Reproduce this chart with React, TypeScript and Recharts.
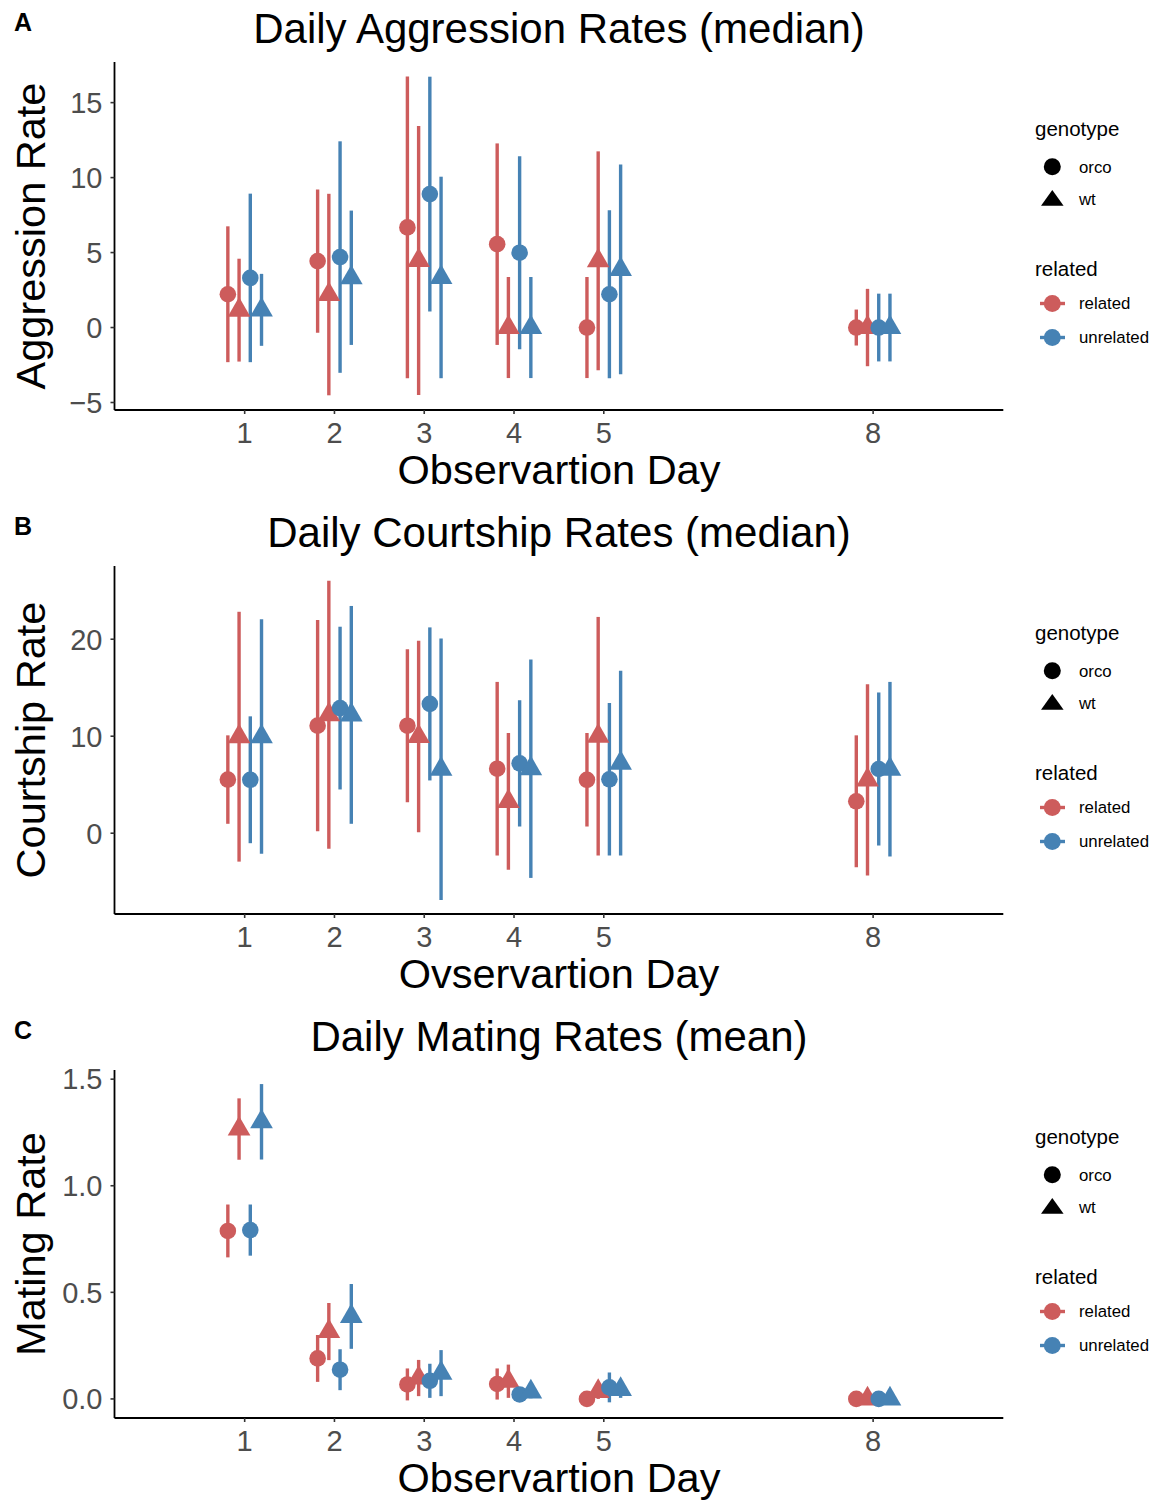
import React from 'react';
import { ScatterChart, Scatter, XAxis, YAxis, ErrorBar } from 'recharts';

// observation days and the dodge offsets for the four genotype x related groups
const days = [1, 2, 3, 4, 5, 8];
const dodge = [-0.1875, -0.0625, 0.0625, 0.1875];
const xTicks = [1, 2, 3, 4, 5, 8];

// aggression (median and half-width of the interval)
const aggRelOrco = [2.22, 4.43, 6.68, 5.56, 0, 0];
const aggRelOrcoErr = [4.53, 4.77, 10.06, 6.72, 3.37, 1.2];
const aggRelWt = [1.16, 2.2, 4.47, 0, 4.45, 0];
const aggRelWtErr = [3.43, 6.72, 8.97, 3.37, 7.3, 2.58];
const aggUnrOrco = [3.31, 4.7, 8.9, 4.99, 2.22, 0];
const aggUnrOrcoErr = [5.62, 7.72, 7.83, 6.44, 5.6, 2.26];
const aggUnrWt = [1.18, 3.32, 3.34, 0, 3.88, 0];
const aggUnrWtErr = [2.4, 4.48, 6.72, 3.37, 6.99, 2.26];

// courtship
const courRelOrco = [5.53, 11.09, 11.08, 6.65, 5.51, 3.29];
const courRelOrcoErr = [4.56, 10.88, 7.88, 8.95, 4.82, 6.8];
const courRelWt = [9.95, 12.21, 9.97, 3.27, 10.0, 5.5];
const courRelWtErr = [12.88, 13.82, 9.87, 7.05, 12.3, 9.87];
const courUnrOrco = [5.51, 12.9, 13.33, 7.2, 5.56, 6.62];
const courUnrOrcoErr = [6.54, 8.39, 7.89, 6.51, 7.87, 7.89];
const courUnrWt = [9.96, 12.2, 6.6, 6.65, 7.22, 6.6];
const courUnrWtErr = [12.09, 11.23, 13.48, 11.26, 9.52, 9.0];

// mating (mean)
const matRelOrco = [0.788, 0.19, 0.068, 0.07, 0, 0];
const matRelOrcoErr = [0.124, 0.11, 0.075, 0.073, 0, 0];
const matRelWt = [1.266, 0.316, 0.098, 0.083, 0.035, 0];
const matRelWtErr = [0.144, 0.134, 0.085, 0.078, 0.035, 0];
const matUnrOrco = [0.792, 0.137, 0.085, 0.021, 0.054, 0];
const matUnrOrcoErr = [0.12, 0.096, 0.08, 0.021, 0.07, 0];
const matUnrWt = [1.3, 0.387, 0.121, 0.033, 0.045, 0];
const matUnrWtErr = [0.177, 0.152, 0.108, 0.03, 0.04, 0];

const RED = '#CD5C5C';
const BLUE = '#4682B4';
const FONT = '"Liberation Sans", Arial, Helvetica, sans-serif';
const PANEL_H = 504;

const toPoints = (vals: number[], errs: number[], k: number) =>
  days.map((d, i) => ({ x: d + dodge[k], y: vals[i], err: errs[i] }));

const circleShape = (color: string) => (p: any) => <circle cx={p.cx} cy={p.cy} r={8.3} fill={color} />;
const triangleShape = (color: string) => (p: any) => {
  const r = 13.1;
  const hw = r * Math.sqrt(3) / 2;
  return (
    <polygon
      points={`${p.cx},${p.cy - r} ${p.cx + hw},${p.cy + r / 2} ${p.cx - hw},${p.cy + r / 2}`}
      fill={color}
    />
  );
};

type Panel = {
  letter: string;
  title: string;
  yTitle: string;
  xTitle: string;
  domain: [number, number];
  ticks: number[];
  fmt: (v: number) => string;
  series: [number[], number[]][];
};

const panels: Panel[] = [
  {
    letter: 'A', title: 'Daily Aggression Rates (median)', yTitle: 'Aggression Rate', xTitle: 'Observartion Day',
    domain: [-5.5, 17.71], ticks: [-5, 0, 5, 10, 15], fmt: (v) => String(v).replace('-', '\u2212'),
    series: [[aggRelOrco, aggRelOrcoErr], [aggRelWt, aggRelWtErr], [aggUnrOrco, aggUnrOrcoErr], [aggUnrWt, aggUnrWtErr]],
  },
  {
    letter: 'B', title: 'Daily Courtship Rates (median)', yTitle: 'Courtship Rate', xTitle: 'Ovservartion Day',
    domain: [-8.33, 27.55], ticks: [0, 10, 20], fmt: (v) => String(v),
    series: [[courRelOrco, courRelOrcoErr], [courRelWt, courRelWtErr], [courUnrOrco, courUnrOrcoErr], [courUnrWt, courUnrWtErr]],
  },
  {
    letter: 'C', title: 'Daily Mating Rates (mean)', yTitle: 'Mating Rate', xTitle: 'Observartion Day',
    domain: [-0.0895, 1.543], ticks: [0, 0.5, 1, 1.5], fmt: (v) => v.toFixed(1),
    series: [[matRelOrco, matRelOrcoErr], [matRelWt, matRelWtErr], [matUnrOrco, matUnrOrcoErr], [matUnrWt, matUnrWtErr]],
  },
];

const seriesColor = [RED, RED, BLUE, BLUE];
const seriesShape = [circleShape(RED), triangleShape(RED), circleShape(BLUE), triangleShape(BLUE)];

function PanelChart({ p }: { p: Panel }) {
  return (
    <ScatterChart width={1162} height={PANEL_H} margin={{ top: 62, right: 158.7, bottom: 0, left: 0 }}>
      <XAxis
        type="number" dataKey="x" domain={[-0.45, 9.45]} ticks={xTicks} allowDataOverflow
        height={94} tickSize={4} tickMargin={8.7}
        axisLine={{ stroke: '#000', strokeWidth: 1.8 }} tickLine={{ stroke: '#333', strokeWidth: 1.6 }}
        tick={{ fill: '#4d4d4d', fontSize: 29, fontFamily: FONT }}
      />
      <YAxis
        type="number" dataKey="y" domain={p.domain} ticks={p.ticks} allowDataOverflow
        width={114.5} tickSize={4} tickMargin={8} tickFormatter={p.fmt}
        axisLine={{ stroke: '#000', strokeWidth: 1.8 }} tickLine={{ stroke: '#333', strokeWidth: 1.6 }}
        tick={{ fill: '#4d4d4d', fontSize: 29, fontFamily: FONT }}
      />
      {p.series.map(([vals, errs], k) => (
        <Scatter
          key={k} data={toPoints(vals, errs, k)} dataKey="y"
          shape={seriesShape[k]} isAnimationActive={false}
        >
          <ErrorBar
            dataKey="err" direction="y" width={0} stroke={seriesColor[k]}
            strokeWidth={3.4} isAnimationActive={false}
          />
        </Scatter>
      ))}
    </ScatterChart>
  );
}

function Legend({ top }: { top: number }) {
  const t = { fontFamily: FONT, fill: '#000' };
  return (
    <g transform={`translate(0,${top})`}>
      <text x={1035} y={136} fontSize={20.5} {...t}>genotype</text>
      <circle cx={1052.3} cy={166.7} r={8.5} fill="#000" />
      <text x={1079} y={172.5} fontSize={16.8} {...t}>orco</text>
      <polygon points="1052.3,190 1063.6,205.7 1041,205.7" fill="#000" />
      <text x={1079} y={205} fontSize={16.8} {...t}>wt</text>
      <text x={1035} y={275.7} fontSize={20.5} {...t}>related</text>
      <line x1={1040} x2={1065} y1={303.5} y2={303.5} stroke={RED} strokeWidth={3.4} />
      <circle cx={1052.3} cy={303.5} r={8.5} fill={RED} />
      <text x={1079} y={309.3} fontSize={16.8} {...t}>related</text>
      <line x1={1040} x2={1065} y1={337.5} y2={337.5} stroke={BLUE} strokeWidth={3.4} />
      <circle cx={1052.3} cy={337.5} r={8.5} fill={BLUE} />
      <text x={1079} y={342.7} fontSize={16.8} {...t}>unrelated</text>
    </g>
  );
}

export default function App() {
  return (
    <div style={{ position: 'absolute', left: 0, top: 0, width: 1162, height: 1501, overflow: 'hidden', background: '#fff' }}>
      {panels.map((p, i) => (
        <div key={p.letter} style={{ position: 'absolute', left: 0, top: i * PANEL_H }}>
          <PanelChart p={p} />
        </div>
      ))}
      <svg width={1162} height={1501} style={{ position: 'absolute', left: 0, top: 0, pointerEvents: 'none' }}>
        {panels.map((p, i) => {
          const top = i * PANEL_H;
          return (
            <g key={p.letter} fontFamily={FONT}>
              <text x={14} y={top + 30.7} fontSize={25} fontWeight="bold">{p.letter}</text>
              <text x={559} y={top + 43.3} fontSize={42} textAnchor="middle">{p.title}</text>
              <text transform={`translate(45,${top + 236}) rotate(-90)`} fontSize={41.5} textAnchor="middle">{p.yTitle}</text>
              <text x={559} y={top + 484} fontSize={41.5} textAnchor="middle">{p.xTitle}</text>
              <Legend top={top} />
            </g>
          );
        })}
      </svg>
    </div>
  );
}
